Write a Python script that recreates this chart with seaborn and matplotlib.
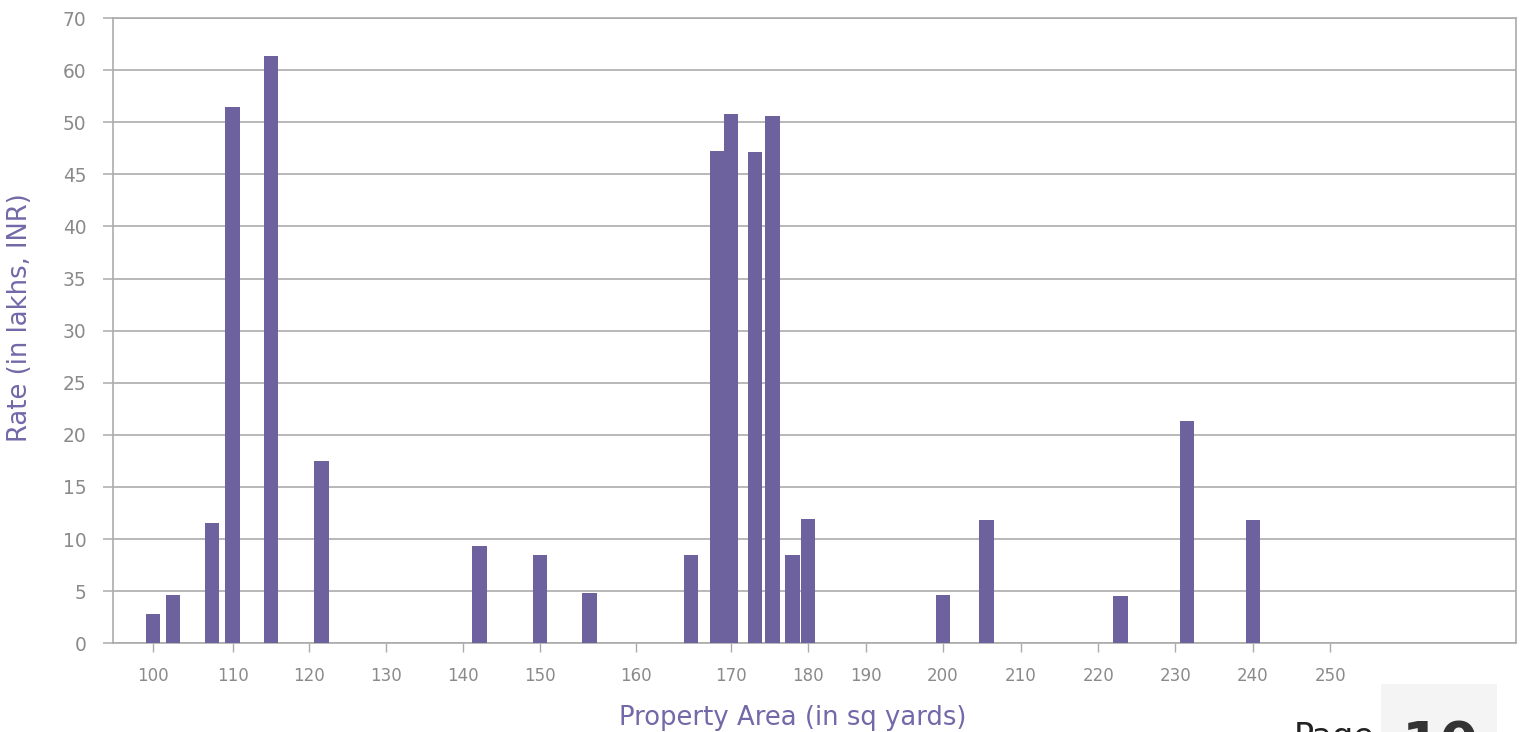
import numpy as np
import pandas as pd
import matplotlib
matplotlib.use("Agg")
import matplotlib.pyplot as plt
from matplotlib.patches import Rectangle
import seaborn as sns

# Property area (sq yards) and asking rate (lakhs INR)
area = [100, 102.5, 107.4, 110, 115, 121.6, 142.2, 150, 155.2, 165.8, 168.5,
        170, 173.1, 175.4, 178, 180, 200, 205.6, 222.9, 231.5, 240]
rate = [2.8, 4.6, 11.5, 52.9, 62.7, 17.5, 9.3, 8.5, 4.8, 8.5, 47.2,
        51.6, 47.1, 51.2, 8.5, 11.9, 4.6, 11.8, 4.5, 21.3, 11.8]

x_ticks = [100, 110, 120, 130, 140, 150, 160, 170, 180, 190, 200, 210, 220, 230, 240, 250]
x_tick_labels = [str(v) for v in x_ticks]
y_ticks = [0, 5, 10, 15, 20, 25, 30, 35, 40, 45, 50, 60, 70]
y_tick_labels = [str(v) for v in y_ticks]

# Layout of the area axis: where each tick sits along the axis (in pixels from the left spine)
AXIS_LEN = 1403.5
TICK_OFFSETS = [40.2, 119.8, 196.5, 273.2, 349.8, 427.2, 522.8, 618.5, 695.2,
                753.2, 830.3, 907.9, 985.5, 1062.7, 1140.3, 1217.5]


def _piecewise(x, xp, fp):
    x = np.asarray(x, dtype=float)
    y = np.interp(x, xp, fp)
    lo_slope = (fp[1] - fp[0]) / (xp[1] - xp[0])
    hi_slope = (fp[-1] - fp[-2]) / (xp[-1] - xp[-2])
    y = np.where(x < xp[0], fp[0] + (x - xp[0]) * lo_slope, y)
    y = np.where(x > xp[-1], fp[-1] + (x - xp[-1]) * hi_slope, y)
    return y


def x_fwd(a):
    return _piecewise(a, x_ticks, TICK_OFFSETS)


def x_inv(p):
    return _piecewise(p, TICK_OFFSETS, x_ticks)


# Rate axis: 0-50 in steps of 5, then 60 and 70 at the same spacing
def y_fwd(v):
    v = np.asarray(v, dtype=float)
    return np.where(v <= 50, v, 50 + (v - 50) / 2.0)


def y_inv(t):
    t = np.asarray(t, dtype=float)
    return np.where(t <= 50, t, 50 + (t - 50) * 2.0)


sns.set_theme(style="white")
plt.rcParams["font.family"] = ["DejaVu Sans"]

W, H = 1522, 732
fig = plt.figure(figsize=(W / 100, H / 100), dpi=100)
left, right, top, bottom = 112.7, 1516.2, 18.0, 643.3
ax = fig.add_axes([left / W, 1 - bottom / H, (right - left) / W, (bottom - top) / H])

ax.set_xscale("function", functions=(x_fwd, x_inv))
ax.set_yscale("function", functions=(y_fwd, y_inv))

df = pd.DataFrame({"area": area, "rate": rate})
bar_color = "#6E629E"
sns.barplot(data=df, x="area", y="rate", native_scale=True, width=1.0,
            color=bar_color, saturation=1, errorbar=None, ax=ax, zorder=3,
            linewidth=0)

ax.set_xlim(float(x_inv(0.0)), float(x_inv(AXIS_LEN)))
ax.set_ylim(0, 70)

grid_c = "#ABABAB"
ax.set_yticks(y_ticks)
ax.set_yticklabels(y_tick_labels)
ax.set_xticks(x_ticks)
ax.set_xticklabels(x_tick_labels)
ax.minorticks_off()
ax.yaxis.grid(True, color=grid_c, linewidth=1.2, zorder=0)
ax.xaxis.grid(False)
ax.set_axisbelow(True)

ax.tick_params(axis="y", direction="out", length=7, width=1.1, color=grid_c,
               pad=12, labelsize=13.4, labelcolor="#8A8A8A", left=True)
ax.tick_params(axis="x", direction="out", length=6.2, width=1.0, color=grid_c,
               pad=11, labelsize=12.0, labelcolor="#8A8A8A", bottom=True)

for side in ["left", "right", "top", "bottom"]:
    ax.spines[side].set_visible(True)
    ax.spines[side].set_color(grid_c)
    ax.spines[side].set_linewidth(1.2)

ax.set_xlabel("")
ax.set_ylabel("")

label_c = "#7368A8"
fig.text(793 / W, 1 - 718 / H, "Property Area (in sq yards)", ha="center", va="center",
         fontsize=18.6, color=label_c)
fig.text(20 / W, 1 - 318 / H, "Rate (in lakhs, INR)", ha="center", va="center",
         rotation=90, fontsize=18.6, color=label_c)

# Page number tab in the corner
fig.patches.append(Rectangle((1381 / W, 0), (1497 - 1381) / W, (732 - 684) / H,
                             transform=fig.transFigure, facecolor="#F4F4F4",
                             edgecolor="none", zorder=0))
fig.text(1334 / W, 1 - 721 / H, "Page", ha="center", va="top", fontsize=24,
         color="#222222")
fig.text(1440 / W, 1 - 719 / H, "10", ha="center", va="top", fontsize=40,
         fontweight="bold", color="#333333")

fig.savefig("out.png", dpi=100)
